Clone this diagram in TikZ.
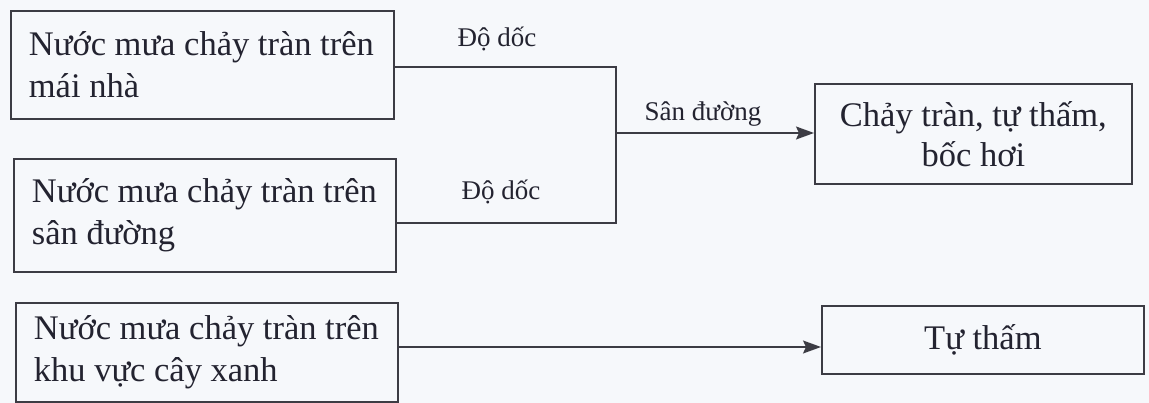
\documentclass[tikz,border=0pt]{standalone}
\usepackage{fontspec}
\setmainfont{Liberation Serif}
\usetikzlibrary{arrows.meta}
\definecolor{ink}{RGB}{35,35,48}
\definecolor{linec}{RGB}{60,60,68}
\definecolor{paper}{RGB}{246,248,251}
\begin{document}
\begin{tikzpicture}[x=1pt,y=-1pt,
  box/.style={draw=linec,line width=1.8pt,anchor=north west,inner sep=0pt,
    text=ink,font=\fontsize{34.5}{40}\selectfont,
    execute at begin node={\spaceskip=0pt\xspaceskip=0pt\relax}},
  lbox/.style={box,align=left,text width=#1,inner xsep=18pt,
    font=\fontsize{34.5}{42.5}\selectfont},
  cbox/.style={box,align=center},
  conn/.style={draw=linec,line width=1.5pt},
  arr/.style={conn,-{Stealth[length=18pt,width=13pt,inset=3pt]}},
  lab/.style={font=\fontsize{27}{30}\selectfont,text=ink}]
\useasboundingbox (0,0) rectangle (1149,403);
\fill[paper] (0,0) rectangle (1149,403);
% left boxes
\node[lbox=347pt,minimum width=383pt,minimum height=108pt] (b1) at (10,10)
  {Nước mưa chảy tràn trên\\mái nhà};
\node[lbox=346pt,minimum width=382pt,minimum height=113pt] (b2) at (13,158)
  {Nước mưa chảy tràn trên\\sân đường};
\node[lbox=346pt,minimum width=382pt,minimum height=99pt] (b3) at (15,302)
  {Nước mưa chảy tràn trên\\khu vực cây xanh};
% right boxes
\node[cbox,minimum width=317pt,minimum height=100pt] (r1) at (814,83)
  {Chảy tràn, tự thấm,\\bốc hơi};
\node[cbox,minimum width=322pt,minimum height=68pt] (r2) at (821,305)
  {Tự thấm};
% junction coordinates
\coordinate (jt) at (616,67);
\coordinate (jb) at (616,223);
\coordinate (jm) at (616,133);
\coordinate (ja) at (0,347);
% connectors
\draw[conn] (b1.east |- jt) -- (jt) -- (jb) -- (b2.east |- jb);
\draw[arr] (jm) -- (r1.west |- jm);
\draw[arr] (b3.east |- ja) -- (r2.west |- ja);
% labels
\node[lab] (l1) at (497,39) {Độ dốc};
\node[lab] (l2) at (501,192) {Độ dốc};
\node[lab] (l3) at (703,114) {Sân đường};
\end{tikzpicture}
\end{document}
